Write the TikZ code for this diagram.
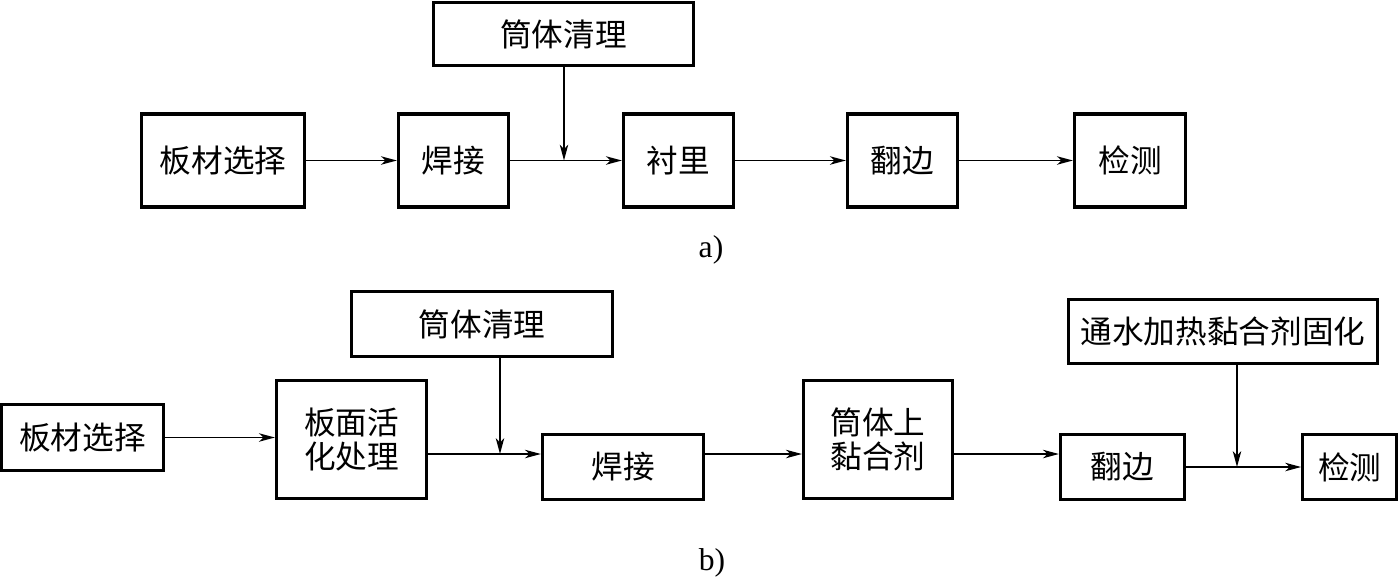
\documentclass[tikz,border=0pt]{standalone}
\usepackage{fontspec}
\setmainfont{Liberation Serif}
\newfontfamily\cjk{Noto Sans CJK SC}
\usetikzlibrary{arrows.meta}

\begin{document}
\begin{tikzpicture}[x=0.02cm, y=-0.02cm,
    box/.style={draw, line width=1.9pt, inner sep=0pt, align=center,
        font=\cjk\fontsize{18}{19}\selectfont},
    caption/.style={font=\fontsize{18}{19}\selectfont},
    flow/.style={line width=0.8pt, -{Stealth[length=9pt,width=4.8pt,inset=2.5pt]}}]

    \useasboundingbox (0,0) rectangle (1400,579);

    % a)
    \node[box, minimum width=5.2cm, minimum height=1.26cm] (cleanA) at (563.5,34) {筒体清理};
    \node[box, minimum width=3.26cm, minimum height=1.86cm] (boardA) at (223,160.5) {板材选择};
    \node[box, minimum width=2.2cm, minimum height=1.86cm] (weldA) at (453.5,160.5) {焊接};
    \node[box, minimum width=2.2cm, minimum height=1.86cm] (lineA) at (678.5,160.5) {衬里};
    \node[box, minimum width=2.2cm, minimum height=1.86cm] (flangeA) at (902.5,160.5) {翻边};
    \node[box, minimum width=2.22cm, minimum height=1.86cm] (testA) at (1130,160.5) {检测};

    \coordinate (jA) at (564,160.5);
    \draw[flow] (boardA) -- (weldA);
    \draw[flow] (cleanA.south -| jA) -- (jA);
    \draw[flow] (weldA) -- (lineA);
    \draw[flow] (lineA) -- (flangeA);
    \draw[flow] (flangeA) -- (testA);

    \node[caption] (capA) at (711,250) {a)};

    % b)
    \node[box, minimum width=3.24cm, minimum height=1.32cm] (boardB) at (82.5,437.5) {板材选择};
    \node[box, minimum width=3.0cm, minimum height=2.36cm] (actB) at (351.5,439.5) {板面活\\化处理};
    \node[box, minimum width=5.22cm, minimum height=1.3cm] (cleanB) at (482,324) {筒体清理};
    \node[box, minimum width=3.22cm, minimum height=1.3cm] (weldB) at (623,467) {焊接};
    \node[box, minimum width=2.98cm, minimum height=2.36cm] (glueB) at (878,439.5) {筒体上\\黏合剂};
    \node[box, minimum width=2.48cm, minimum height=1.3cm] (flangeB) at (1122.5,467) {翻边};
    \node[box, minimum width=6.18cm, minimum height=1.28cm] (cureB) at (1223,331.5) {通水加热黏合剂固化};
    \node[box, minimum width=1.88cm, minimum height=1.3cm] (testB) at (1349.75,467) {检测};

    \coordinate (jB) at (500,454);
    \coordinate (jC) at (1237,467);
    \draw[flow] (boardB.east) -- (actB.west |- boardB.east);
    \draw[flow] (cleanB.south -| jB) -- (jB);
    \draw[flow] (actB.east |- jB) -- (weldB.west |- jB);
    \draw[flow] (weldB.east |- jB) -- (glueB.west |- jB);
    \draw[flow] (glueB.east |- jB) -- (flangeB.west |- jB);
    \draw[flow] (cureB.south -| jC) -- (jC);
    \draw[flow] (flangeB) -- (testB);

    \node[caption] (capB) at (712,563) {b)};

\end{tikzpicture}
\end{document}
